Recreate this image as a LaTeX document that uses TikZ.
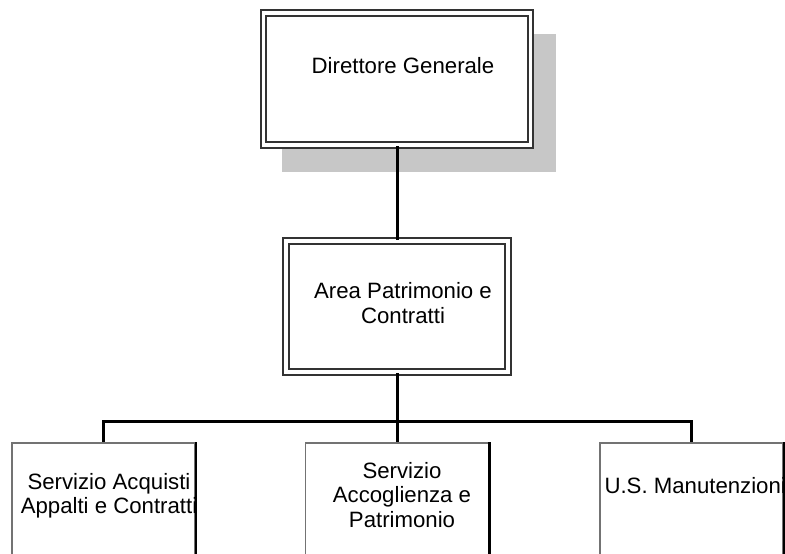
\documentclass[tikz,border=0pt]{standalone}
\usepackage{fontspec}
\setmainfont{Liberation Sans}

\begin{document}
\begin{tikzpicture}[
                x = 1pt, y = -1pt, % pixel units, y runs down
                line width = 3pt, % connector style
                font = \fontsize{22.2}{24.5}\selectfont
            ]

            \tikzstyle{box}=[inner sep = 0pt, fill = white]
            \tikzstyle{dbox}=[box, draw = black!80, double = white,
            double distance = 3.5pt, line width = 2pt]
            \tikzstyle{sbox}=[box, draw = black!55, line width = 1.5pt,
            minimum width = 183pt, minimum height = 132pt]
            \tikzstyle{txt}=[inner sep = 0pt, align = center]

            \useasboundingbox (0,0) rectangle (785,554);

            % shadow behind the top box
            \fill[black!22] (282,34) rectangle (556,172);

            \node[dbox, minimum width = 267pt, minimum height = 132pt]
            (dg) at (397,79) {};
            \node[dbox, minimum width = 222pt, minimum height = 131pt]
            (area) at (397,306.5) {};
            \node[sbox] (acq) at (103.5,509) {}; \node[sbox] (acc) at
            (397,509) {}; \node[sbox] (man) at (691.5,509) {};

            % darker right edges
            \draw[line width = 2.5pt] (acq.north east) -- (acq.south east);
            \draw[line width = 2.5pt] (acc.north east) -- (acc.south east);
            \draw[line width = 2.5pt] (man.north east) -- (man.south east);

            \coordinate (bus) at (397,421);
            \draw (dg) -- (area); \draw (area) -- (bus);
            \draw (bus) -| (acq); \draw (bus) -| (man); \draw (bus) -- (acc);

            \node[txt] (t1) at (403,66) {Direttore Generale};
            \node[txt] (t2) at (403,303) {Area Patrimonio e\\Contratti};
            \node[txt] (t3) at (109,496) {Servizio Acquisti\\Appalti e Contratti};
            \node[txt] (t4) at (402,495) {Servizio\\Accoglienza e\\Patrimonio};
            \node[txt, anchor = west] (t5) at (603,485.5) {U.S. Manutenzioni};

        \end{tikzpicture}
\end{document}
